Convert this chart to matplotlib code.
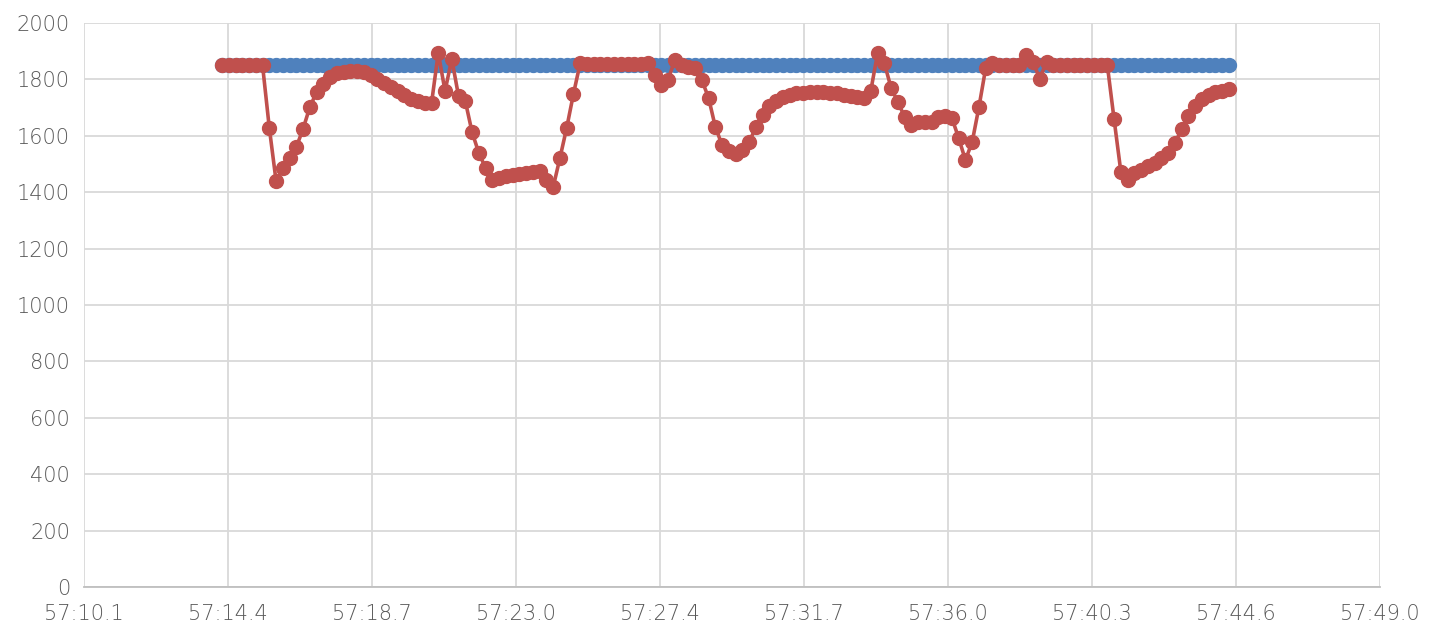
import numpy as np
import matplotlib.pyplot as plt
from matplotlib.ticker import FuncFormatter

# valori (un campione circa ogni 0.2 s)
rosso = [1850, 1850, 1850, 1850, 1850, 1850, 1850,
         1628, 1440, 1486, 1521, 1560, 1625, 1702, 1755, 1785, 1808,
         1822, 1828, 1830, 1830, 1826, 1816, 1802, 1788, 1772, 1758,
         1745, 1732, 1722, 1717, 1715, 1894, 1759, 1872, 1741, 1723,
         1613, 1539, 1486, 1443, 1450, 1456, 1461, 1465, 1469, 1472,
         1475, 1445, 1418, 1521, 1628, 1748, 1858,
         1853, 1853, 1853, 1853, 1853, 1853, 1853, 1853, 1853,
         1858, 1816, 1780, 1798, 1869, 1851, 1844, 1840, 1798, 1734,
         1631, 1567, 1545, 1537, 1548, 1578, 1631, 1674, 1705, 1725,
         1738, 1745, 1750, 1752, 1755, 1756, 1755, 1752, 1750, 1746,
         1742, 1738, 1734, 1760, 1892, 1858, 1770, 1720, 1667, 1638,
         1649, 1650, 1648, 1668, 1670, 1663, 1592, 1514, 1578, 1702,
         1840, 1858, 1852, 1852, 1852, 1852, 1888, 1860, 1803, 1862,
         1852, 1850, 1850, 1850, 1850, 1850, 1850, 1850, 1850, 1658,
         1472, 1443, 1468, 1480, 1492, 1505, 1520, 1538, 1574, 1624,
         1670, 1704, 1730, 1745, 1754, 1760, 1766]
blu = [1851] * len(rosso)

t_inizio = 14.22   # secondi dopo 57:00
t_fine = 44.43
tempi = np.linspace(t_inizio, t_fine, len(rosso))

tick_x = 10.08 + 4.32 * np.arange(10)
tick_y = np.arange(0, 2001, 200)

fig = plt.figure(figsize=(14.38, 6.33), dpi=100)
ax = fig.add_axes([84/1438, 1 - 587/633, (1380-84)/1438, (587-23)/633])

ax.plot(tempi, blu, '-o', color='#4F81BD', lw=2.6, ms=10, mec='#4F81BD', zorder=3)
ax.plot(tempi, rosso, '-o', color='#C0504D', lw=2.6, ms=10, mec='#C0504D', zorder=4)

ax.set_xlim(tick_x[0], tick_x[-1])
ax.set_ylim(0, 2000)
ax.set_xticks(tick_x)
ax.set_yticks(tick_y)
ax.xaxis.set_major_formatter(FuncFormatter(lambda v, p: "57:%04.1f" % v))

ax.grid(True, color='#d9d9d9', lw=1.3)
ax.set_axisbelow(True)
for s in ['top', 'right', 'left']:
    ax.spines[s].set_visible(False)
ax.spines['bottom'].set_color('#bfbfbf')
ax.spines['bottom'].set_linewidth(1.3)
ax.tick_params(length=0, labelsize=15, colors='#595959')
ax.tick_params(axis='x', pad=12)
ax.tick_params(axis='y', pad=10)
for lab in ax.get_xticklabels() + ax.get_yticklabels():
    lab.set_family('DejaVu Sans')
    lab.set_weight('light')

fig.savefig('out.png', dpi=100)
